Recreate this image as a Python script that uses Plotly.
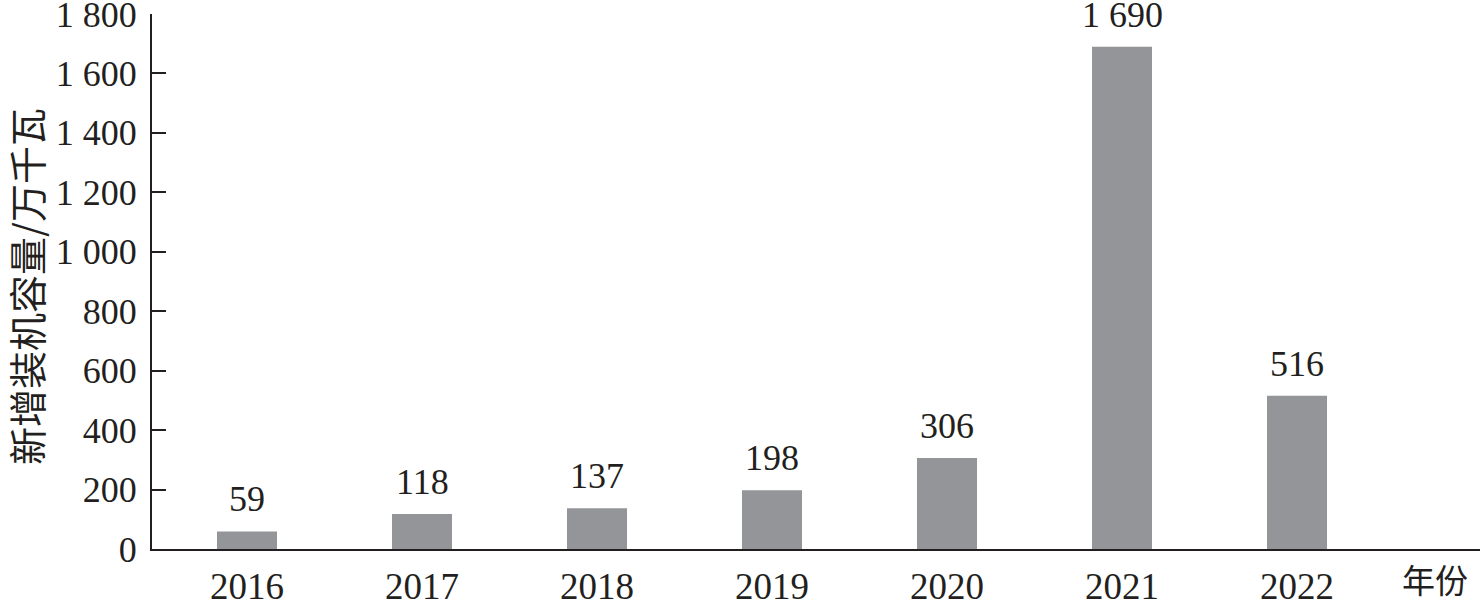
import plotly.graph_objects as go

years = [2016, 2017, 2018, 2019, 2020, 2021, 2022]
capacity = [59, 118, 137, 198, 306, 1690, 516]
y_ticks = [0, 200, 400, 600, 800, 1000, 1200, 1400, 1600, 1800]
y_title = "新增装机容量/万千瓦"
x_title = "年份"

INK = "#231f20"
BAR = "#939598"
FONT = "Liberation Serif, Noto Sans CJK SC, serif"

W, H = 1484, 606
ML, MR, MT, MB = 152, 4, 14, 57
pw = W - ML - MR
ph = H - MT - MB

fig = go.Figure()
fig.add_trace(go.Bar(
    x=years, y=capacity, width=0.343,
    marker=dict(color=BAR, line=dict(width=0)),
    hoverinfo="x+y",
))

def fmt(v):
    return f"{v:,}".replace(",", " ")

for yr, v in zip(years, capacity):
    fig.add_annotation(x=yr, y=v, xref="x", yref="y", text=fmt(v),
                       showarrow=False, yanchor="bottom", yshift=10,
                       font=dict(family=FONT, size=36, color=INK))

fig.add_annotation(xref="paper", yref="paper",
                   x=(25 - ML) / pw, y=(H - MB - 287) / ph, text=y_title, textangle=-90,
                   showarrow=False, xanchor="center", yanchor="middle",
                   font=dict(family="Noto Sans CJK SC", size=38, color=INK))
fig.add_annotation(xref="paper", yref="paper",
                   x=(1435 - ML) / pw, y=0, yshift=-30, text=x_title,
                   showarrow=False, xanchor="center", yanchor="middle",
                   font=dict(family="Noto Sans CJK SC", size=33, color=INK))

fig.update_layout(
    width=W, height=H,
    margin=dict(l=ML, r=MR, t=MT, b=MB, pad=0, autoexpand=False),
    paper_bgcolor="white", plot_bgcolor="white",
    separators=". ",
    showlegend=False,
    font=dict(family=FONT, size=36, color=INK),
    xaxis=dict(
        range=[2016 - 95 / 175, 2016 + 1233 / 175],
        tickvals=years, ticktext=[str(y) for y in years],
        showline=True, linecolor=INK, linewidth=2,
        showgrid=False, zeroline=False, ticks="",
        ticklabelstandoff=4, automargin=False, ticklabeloverflow="allow",
        tickfont=dict(family=FONT, size=37, color=INK),
    ),
    yaxis=dict(
        range=[0, 1800], tickvals=y_ticks, tickformat=",d",
        showline=True, linecolor=INK, linewidth=2,
        showgrid=False, zeroline=False,
        ticks="inside", ticklen=14, tickwidth=2, tickcolor=INK,
        ticklabelstandoff=6, automargin=False, ticklabeloverflow="allow",
        tickfont=dict(family=FONT, size=36, color=INK),
    ),
)

fig.write_html("out.html", config={"displayModeBar": False},
               post_script="document.body.style.margin='0';")
